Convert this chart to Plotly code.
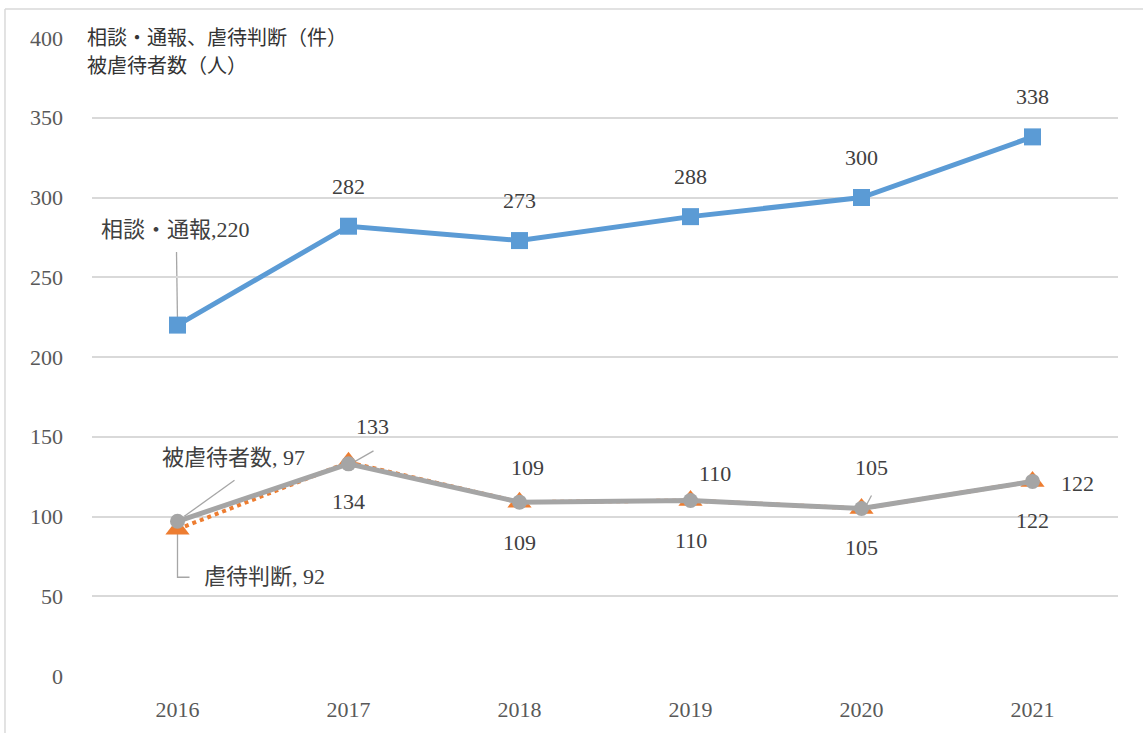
import plotly.graph_objects as go

years = [2016, 2017, 2018, 2019, 2020, 2021]
soudan = [220, 282, 273, 288, 300, 338]          # 相談・通報
handan = [92, 134, 109, 110, 105, 122]           # 虐待判断
higyaku = [97, 133, 109, 110, 105, 122]          # 被虐待者数
y_ticks = [0, 50, 100, 150, 200, 250, 300, 350, 400]

FONT = "Liberation Serif, Noto Sans CJK JP, serif"
TXT = "#404040"
TICK = "#595959"
BLUE = "#5B9BD5"
ORANGE = "#ED7D31"
GRAY = "#A5A5A5"
LEAD = "#A6A6A6"

fig = go.Figure()
fig.add_trace(go.Scatter(x=years, y=soudan, mode="lines+markers", name="相談・通報",
                         line=dict(color=BLUE, width=5),
                         marker=dict(symbol="square", size=17, color=BLUE)))
fig.add_trace(go.Scatter(x=years, y=handan, mode="lines+markers", name="虐待判断",
                         line=dict(color=ORANGE, width=4, dash="dot"),
                         marker=dict(symbol="triangle-up", size=21, color=ORANGE)))
fig.add_trace(go.Scatter(x=years, y=higyaku, mode="lines+markers", name="被虐待者数",
                         line=dict(color=GRAY, width=5),
                         marker=dict(symbol="circle", size=15, color=GRAY)))

ann = []
def lab(x, y, text, dx, dy, size=22):
    ann.append(dict(x=x, y=y, xref="x", yref="y", text=text, showarrow=False,
                    xshift=dx, yshift=dy, xanchor="center", yanchor="middle",
                    font=dict(family=FONT, size=size, color=TXT)))

# 相談・通報 labels
lab(years[0], soudan[0], f"相談・通報,{soudan[0]}", -2, 96)
for x, v in zip(years[1:], soudan[1:]):
    lab(x, v, str(v), 0, 40)

# 被虐待者数 labels (above)
g_off = [(56, 64), (24, 37), (8, 35), (24, 27), (10, 41), (45, -2)]
for i, (x, v) in enumerate(zip(years, higyaku)):
    t = f"被虐待者数, {v}" if i == 0 else str(v)
    lab(x, v, t, *g_off[i])

# 虐待判断 labels (below)
o_off = [(87, -47), (0, -39), (0, -40), (0, -40), (0, -39), (0, -39)]
for i, (x, v) in enumerate(zip(years, handan)):
    t = f"虐待判断, {v}" if i == 0 else str(v)
    lab(x, v, t, *o_off[i])

# axis title
ann.append(dict(x=-0.007, y=1.0, xref="paper", yref="paper", text="相談・通報、虐待判断（件）",
                showarrow=False, xanchor="left", yanchor="middle",
                font=dict(family=FONT, size=20, color="#333333")))
ann.append(dict(x=-0.007, y=0.956, xref="paper", yref="paper", text="被虐待者数（人）",
                showarrow=False, xanchor="left", yanchor="middle",
                font=dict(family=FONT, size=20, color="#333333")))

shapes = []
def leader(x, y, path):
    shapes.append(dict(type="path", xref="x", yref="y", xsizemode="pixel", ysizemode="pixel",
                       xanchor=x, yanchor=y, path=path,
                       line=dict(color=LEAD, width=1.3), layer="below"))

leader(years[0], soudan[0], "M -1 73 L 0 3")
leader(years[0], higyaku[0], "M 4 3 L 57 41")
leader(years[1], higyaku[1], "M 4 1 L 25 13")
leader(years[4], higyaku[4], "M 3 0 L 10 13")
leader(years[0], handan[0], "M 0 -4 L 0 -48 L 12 -48")

# chart border (left and top visible)
shapes.append(dict(type="line", xref="paper", yref="paper", x0=-0.0848, x1=-0.0848, y0=-0.2, y1=1.0455,
                   line=dict(color="#D9D9D9", width=1.5)))
shapes.append(dict(type="line", xref="paper", yref="paper", x0=-0.0848, x1=1.1, y0=1.0455, y1=1.0455,
                   line=dict(color="#D9D9D9", width=1.5)))

fig.update_layout(
    width=1143, height=733, autosize=False,
    margin=dict(l=92, r=25, t=38, b=57),
    paper_bgcolor="white", plot_bgcolor="white",
    showlegend=False,
    annotations=ann, shapes=shapes,
    xaxis=dict(range=[2015.5, 2021.5], tickvals=years, ticktext=[str(y) for y in years],
               showgrid=False, zeroline=False, showline=False, ticks="",
               tickfont=dict(family=FONT, size=22, color=TICK), ticklabelstandoff=18),
    yaxis=dict(range=[0, 400], tickvals=y_ticks, showgrid=True, gridcolor="#D9D9D9", gridwidth=1.5,
               zeroline=False, showline=False, ticks="",
               tickfont=dict(family=FONT, size=22, color=TICK), ticklabelstandoff=28),
)

fig.write_html("out.html", config={"displayModeBar": False},
               post_script="document.body.style.margin='0';document.body.style.overflow='hidden';")
